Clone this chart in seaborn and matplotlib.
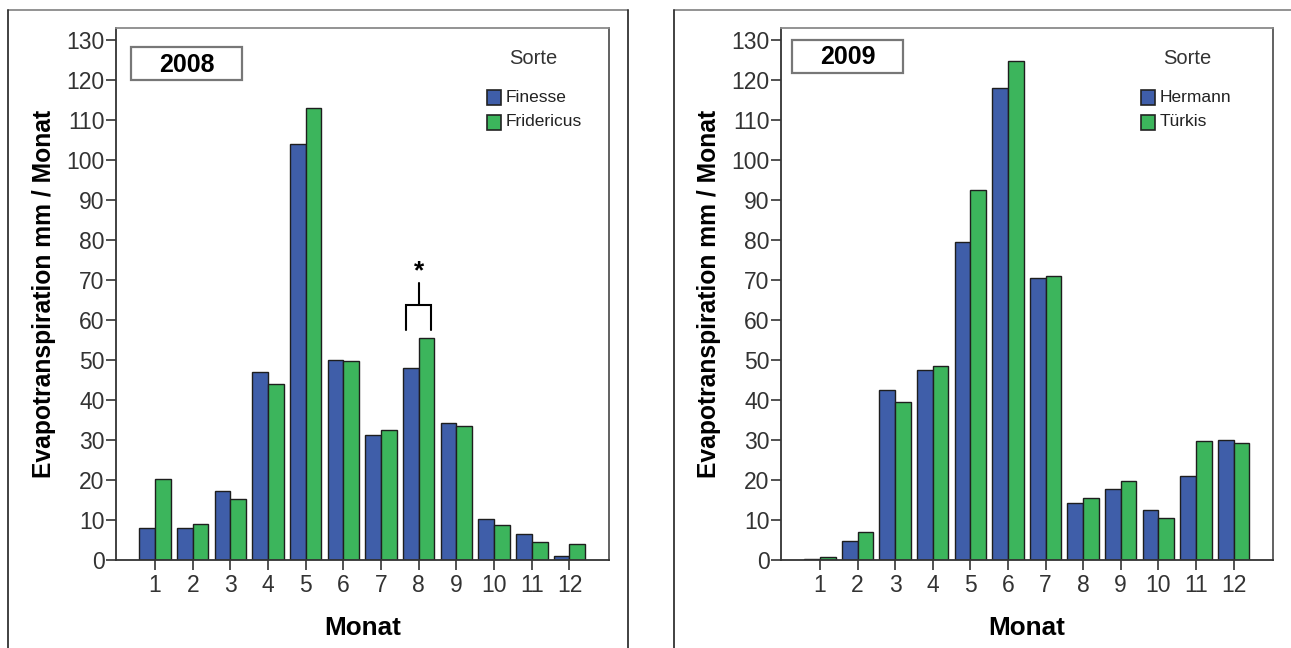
import numpy as np
import pandas as pd
import matplotlib
matplotlib.use("Agg")
import matplotlib.pyplot as plt
from matplotlib.lines import Line2D
from matplotlib.patches import Rectangle
import seaborn as sns

# Monthly evapotranspiration (mm / month) per variety
months = ["1", "2", "3", "4", "5", "6", "7", "8", "9", "10", "11", "12"]

finesse_2008 = [8.1, 7.9, 17.3, 47.0, 104.1, 50.1, 31.3, 47.9, 34.2, 10.2, 6.5, 1.1]
fridericus_2008 = [20.3, 9.0, 15.3, 44.1, 113.1, 49.8, 32.4, 55.4, 33.4, 8.8, 4.5, 4.1]

hermann_2009 = [0.2, 4.7, 42.6, 47.6, 79.5, 118.1, 70.4, 14.2, 17.8, 12.4, 20.9, 30.0]
tuerkis_2009 = [0.8, 7.0, 39.6, 48.5, 92.5, 124.7, 71.0, 15.6, 19.8, 10.4, 29.8, 29.3]

y_ticks = list(range(0, 131, 10))

BLUE = "#3f5ea9"
GREEN = "#3cb55c"
EDGE = "#1e1e1e"

sns.set_theme(style="white")
plt.rcParams["font.family"] = ["Liberation Sans", "DejaVu Sans"]

fig = plt.figure(figsize=(12.91, 6.48), dpi=100)
W, H = 1291, 648


def fx(px):
    return px / W


def fy(py):
    return 1 - py / H


# Panel frames
def panel_frame(x0, x1, right_edge=True):
    fig.add_artist(Line2D([fx(x0), fx(x1)], [fy(9.5), fy(9.5)], transform=fig.transFigure,
                          color="#8a8a8a", lw=1.3))
    fig.add_artist(Line2D([fx(x0), fx(x0)], [fy(9.5), -0.01], transform=fig.transFigure,
                          color="#333333", lw=1.3))
    if right_edge:
        fig.add_artist(Line2D([fx(x1), fx(x1)], [fy(9.5), -0.01], transform=fig.transFigure,
                              color="#333333", lw=1.3))


panel_frame(7.5, 627.5)
panel_frame(673.5, 1300, right_edge=False)


def draw_panel(ax_px, values_a, values_b, name_a, name_b, year, box_px, legend_px, sig_month=None):
    left, right = ax_px
    ax = fig.add_axes([fx(left), fy(560), fx(right - left), (560 - 28) / H])
    df = pd.DataFrame({
        "Monat": months * 2,
        "ET": values_a + values_b,
        "Sorte": [name_a] * len(months) + [name_b] * len(months),
    })
    sns.barplot(data=df, x="Monat", y="ET", hue="Sorte", order=months,
                hue_order=[name_a, name_b], palette=[BLUE, GREEN],
                width=0.835, edgecolor=EDGE, linewidth=1.0, saturation=1,
                errorbar=None, ax=ax, legend=False)
    ax.set_xlim(-1.05, 12.05)
    ax.set_ylim(0, 133)
    ax.set_yticks(y_ticks)
    ax.set_yticklabels([str(t) for t in y_ticks])
    ax.tick_params(axis="both", which="major", direction="out", length=7, width=1.2,
                   color="#333333", labelsize=16.5, labelcolor="#333333", pad=1,
                   left=True, bottom=True)
    ax.tick_params(axis="x", pad=3)
    for side in ["left", "bottom"]:
        ax.spines[side].set_color("#333333")
        ax.spines[side].set_linewidth(1.3)
    ax.spines["top"].set_color("#8a8a8a")
    ax.spines["top"].set_linewidth(1.3)
    ax.spines["right"].set_color("#555555")
    ax.spines["right"].set_linewidth(1.3)
    ax.set_xlabel("Monat", fontsize=18.8, fontweight="bold", color="black", labelpad=14)
    ax.set_ylabel("Evapotranspiration mm / Monat", fontsize=17.7, fontweight="bold",
                  color="black", labelpad=7)

    # Year label box
    bx0, by0, bx1, by1 = box_px
    fig.add_artist(Rectangle((fx(bx0), fy(by1)), fx(bx1 - bx0), (by1 - by0) / H,
                             transform=fig.transFigure, fill=False, edgecolor="#777777", lw=1.6))
    fig.text(fx((bx0 + bx1) / 2), fy((by0 + by1) / 2 + 1), year, ha="center", va="center",
             fontsize=18, fontweight="bold", color="black")

    # Legend
    lx, ly = legend_px
    fig.text(fx(lx + 46), fy(ly), "Sorte", ha="center", va="center", fontsize=14.5, color="#333333")
    for i, (name, col) in enumerate([(name_a, BLUE), (name_b, GREEN)]):
        cy = ly + 39 + i * 25
        fig.add_artist(Rectangle((fx(lx), fy(cy + 7.5)), fx(14), 15 / H,
                                 transform=fig.transFigure, facecolor=col,
                                 edgecolor="#222222", lw=1.2))
        fig.text(fx(lx + 19), fy(cy), name, ha="left", va="center", fontsize=12.5,
                 color="#222222")

    # Significance bracket
    if sig_month is not None:
        i = months.index(sig_month)
        top = max(values_a[i], values_b[i])
        leg_bottom = top + 2.1
        bar_y = top + 8.4
        ax.plot([i - 0.33, i - 0.33, i + 0.33, i + 0.33],
                [leg_bottom, bar_y, bar_y, leg_bottom], color="black", lw=1.5,
                solid_joinstyle="miter", clip_on=False)
        ax.plot([i, i], [bar_y, bar_y + 5.5], color="black", lw=1.5, clip_on=False)
        ax.text(i, bar_y + 8.3, "*", ha="center", va="center", fontsize=19,
                fontweight="bold", color="black")
    return ax


draw_panel((115.5, 609), finesse_2008, fridericus_2008, "Finesse", "Fridericus", "2008",
           (131, 47, 242, 80), (487, 58), sig_month="8")
draw_panel((780.5, 1273), hermann_2009, tuerkis_2009, "Hermann", "Türkis", "2009",
           (792, 40, 903, 73), (1141, 58))

fig.savefig("out.png", dpi=100, facecolor="white")
